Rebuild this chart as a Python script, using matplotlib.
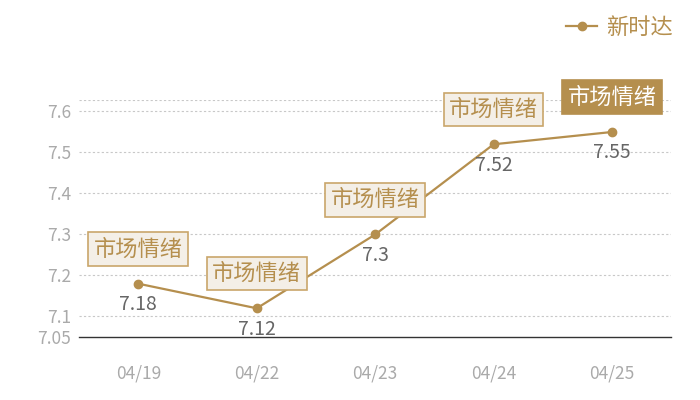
import matplotlib
matplotlib.use("Agg")
import matplotlib.pyplot as plt

plt.rcParams['font.family'] = ['Noto Sans CJK SC', 'DejaVu Sans']

dates = ["04/19", "04/22", "04/23", "04/24", "04/25"]
values = [7.18, 7.12, 7.3, 7.52, 7.55]
value_labels = ["7.18", "7.12", "7.3", "7.52", "7.55"]
series_name = "新时达"
note = "市场情绪"
yticks = [7.05, 7.1, 7.2, 7.3, 7.4, 7.5, 7.6]
ytick_labels = ["7.05", "7.1", "7.2", "7.3", "7.4", "7.5", "7.6"]

gold = "#b58f4e"
x = list(range(len(dates)))

fig = plt.figure(figsize=(7, 4), dpi=100)
ax = fig.add_axes([0.113, 0.1575, 0.846, 0.5925])

ax.plot(x, values, color=gold, lw=1.6, marker="o", ms=6, label=series_name, zorder=3)

ax.set_xlim(-0.5, 4.5)
ax.set_ylim(7.05, 7.628)
ax.set_xticks(x)
ax.set_xticklabels(dates)
ax.set_yticks(yticks)
ax.set_yticklabels(ytick_labels)
ax.tick_params(axis="both", length=0, colors="#aaaaaa", labelsize=12.5)
ax.tick_params(axis="x", pad=20)
ax.tick_params(axis="y", pad=6)

for s in ["top", "right", "left"]:
    ax.spines[s].set_visible(False)
ax.spines["bottom"].set_color("#333333")
ax.spines["bottom"].set_linewidth(1)

for yv in yticks[1:] + [7.628]:
    ax.axhline(yv, color="#c8c8c8", lw=0.8, ls=(0, (2, 2)), zorder=1)

for i, v in enumerate(values):
    ax.annotate(value_labels[i], (i, v), xytext=(0, -15), textcoords="offset points",
                ha="center", va="center", fontsize=14, color="#666666")
    last = i == len(values) - 1
    ax.annotate(note, (i, v), xytext=(0, 25), textcoords="offset points",
                ha="center", va="center", fontsize=16,
                color="white" if last else gold,
                bbox=dict(boxstyle="square,pad=0.24",
                          fc=gold if last else "#f4efe7",
                          ec=gold if last else "#c9a66b", lw=1.2),
                zorder=4)

fig.legend(loc="upper right", bbox_to_anchor=(0.99, 1.01), frameon=False,
           fontsize=16, labelcolor=gold, handlelength=1.4, handletextpad=0.4)

fig.savefig("out.png", dpi=100)
